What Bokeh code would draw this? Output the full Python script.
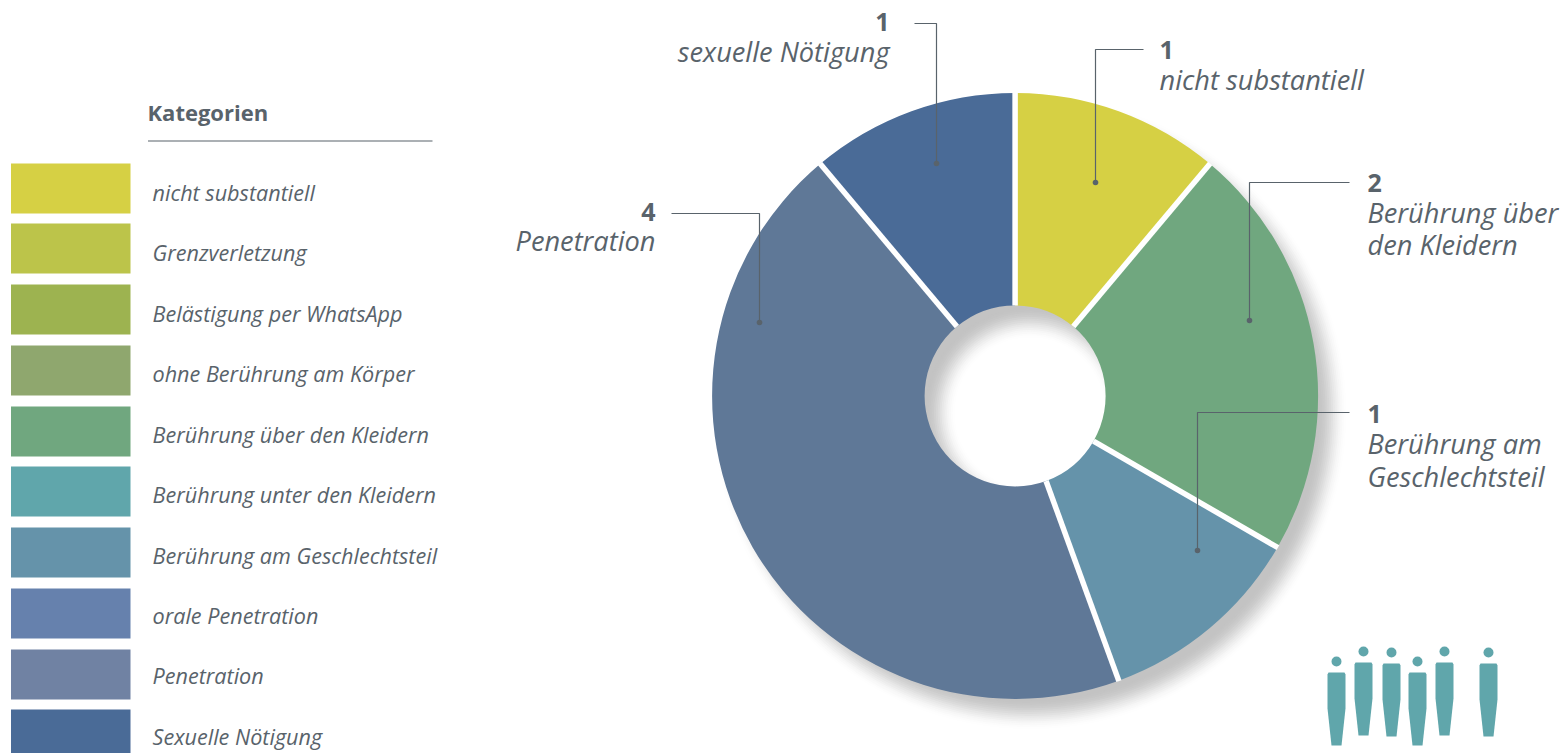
import math
from bokeh.plotting import figure
from bokeh.models import Range1d
from bokeh.core.properties import value
from bokeh.embed import file_html
from bokeh.resources import INLINE

# ---- data ----
slice_names = ["nicht substantiell", "Berührung über den Kleidern", "Berührung am Geschlechtsteil", "Penetration", "sexuelle Nötigung"]
slice_values = [1, 2, 1, 4, 1]
slice_colors = ["#d6d044", "#70a77f", "#6593aa", "#5f7897", "#4a6b97"]

legend_title = "Kategorien"
legend_labels = ["nicht substantiell", "Grenzverletzung", "Belästigung per WhatsApp", "ohne Berührung am Körper",
                 "Berührung über den Kleidern", "Berührung unter den Kleidern", "Berührung am Geschlechtsteil",
                 "orale Penetration", "Penetration", "Sexuelle Nötigung"]
legend_colors = ["#d6d044", "#bcc44a", "#9db350", "#8fa76e", "#70a77f", "#60a6ab", "#6593aa", "#6681ad", "#7082a3", "#4a6b97"]
legend_tops = [163, 223, 284, 345, 406, 466, 527, 588, 649, 709]
legend_text_y = [191.5, 252, 312.5, 373, 433.5, 494, 554.5, 615, 675, 736]

# ---- layout ----
W, H = 1561, 753
CX, CY, R, R0 = 1014.6, 395.4, 303, 90.5
TXT = "#59636b"
FONT = "Open Sans"
GRAY = (195, 195, 195)
SH_DX, SH_DY, BLUR = 15, 17, 15

p = figure(width=W, height=H, x_range=Range1d(0, W), y_range=Range1d(H, 0), output_backend="svg",
           toolbar_location=None, min_border=0, outline_line_color=None, background_fill_color="white")
p.axis.visible = False
p.grid.visible = False
p.styles = {"position": "absolute", "left": "0px", "top": "0px"}


def mix(a, b, t):
    t = t * t * (3 - 2 * t)
    return "#%02x%02x%02x" % tuple(round(x + (y - x) * t) for x, y in zip(a, b))


WHITE = (255, 255, 255)
N = 16
# soft outer shadow
for i in range(N + 1):
    t = i / N
    p.circle(CX + SH_DX, CY + SH_DY, radius=R + BLUR - 2 * BLUR * t, fill_color=mix(WHITE, GRAY, t), line_color=None)
p.circle(CX, CY, radius=R - 2, fill_color="#%02x%02x%02x" % GRAY, line_color=None)
# soft inner shadow in the hole
for i in range(N + 1):
    t = i / N
    p.circle(CX + SH_DX, CY + SH_DY, radius=R0 + BLUR - 2 * BLUR * t, fill_color=mix(GRAY, WHITE, t), line_color=None)

# donut
total = sum(slice_values)
cum = [0]
for v in slice_values:
    cum.append(cum[-1] + v)
starts = [math.pi / 2 - 2 * math.pi * c / total for c in cum[:-1]]
ends = [math.pi / 2 - 2 * math.pi * c / total for c in cum[1:]]
p.annular_wedge([CX] * len(slice_values), [CY] * len(slice_values), inner_radius=R0, outer_radius=R,
                start_angle=starts, end_angle=ends, direction="clock", fill_color=slice_colors, line_color=None)
for a in starts:
    p.segment(CX + R0 * math.cos(a), CY - R0 * math.sin(a), CX + (R + 0.5) * math.cos(a), CY - (R + 0.5) * math.sin(a),
              line_color="white", line_width=5.5)

# callouts: (path, number, lines, text x, align, number y, line ys)
callouts = [
    ([1143, 1095, 1095], [49, 49, 182], "1", ["nicht substantiell"], 1159, "left", 49, [79]),
    ([1349, 1249, 1249], [182, 182, 320], "2", ["Berührung über", "den Kleidern"], 1367, "left", 182, [212, 244]),
    ([1349, 1197, 1197], [412, 412, 550], "1", ["Berührung am", "Geschlechtsteil"], 1367, "left", 413, [443, 476]),
    ([671, 759, 759], [213, 213, 322], "4", ["Penetration"], 655, "right", 211, [240]),
    ([914, 936, 936], [23, 23, 163], "1", ["sexuelle Nötigung"], 889, "right", 21, [51]),
]
for xs, ys, num, lines, tx, al, ny, lys in callouts:
    p.line(xs, ys, line_color=TXT, line_width=1.2)
    p.circle(xs[-1], ys[-1], radius=2.8, fill_color=TXT, line_color=None)
    p.text([tx], [ny], text=[num], text_font=value(FONT), text_font_style="bold", text_font_size="25px",
           text_color=TXT, text_align=al, text_baseline="middle")
    p.text([tx] * len(lines), lys, text=lines, text_font=value(FONT), text_font_style="italic", text_font_size="27.2px",
           text_color=TXT, text_align=al, text_baseline="middle")

# legend
p.text([147], [111], text=[legend_title], text_font=value(FONT), text_font_style="bold", text_font_size="22px",
       text_color=TXT, text_align="left", text_baseline="middle")
p.line([147.5, 432], [140.5, 140.5], line_color=TXT, line_width=1.2)
p.quad(left=[10.5] * 10, right=[130] * 10, top=legend_tops, bottom=[t + 50 for t in legend_tops], fill_color=legend_colors, line_color=None)
p.text([152] * 10, legend_text_y, text=legend_labels, text_font=value(FONT), text_font_style="italic",
       text_font_size="21.6px", text_color=TXT, text_align="left", text_baseline="middle")

# people pictogram
people_x = [1336, 1363, 1391, 1417, 1444, 1488]
people_head_y = [661, 651, 652, 661, 651, 652]
TEAL = "#60a6ab"
for x, hy in zip(people_x, people_head_y):
    p.circle(x, hy, radius=5, fill_color=TEAL, line_color=None)
    top = hy + 11
    p.patch([x - 9, x - 8, x + 8, x + 9, x + 9, x + 5, x - 5, x - 9],
            [top + 2, top, top, top + 2, top + 36, top + 73, top + 73, top + 36], fill_color=TEAL, line_color=None)

open("out.html", "w").write(file_html(p, INLINE))
